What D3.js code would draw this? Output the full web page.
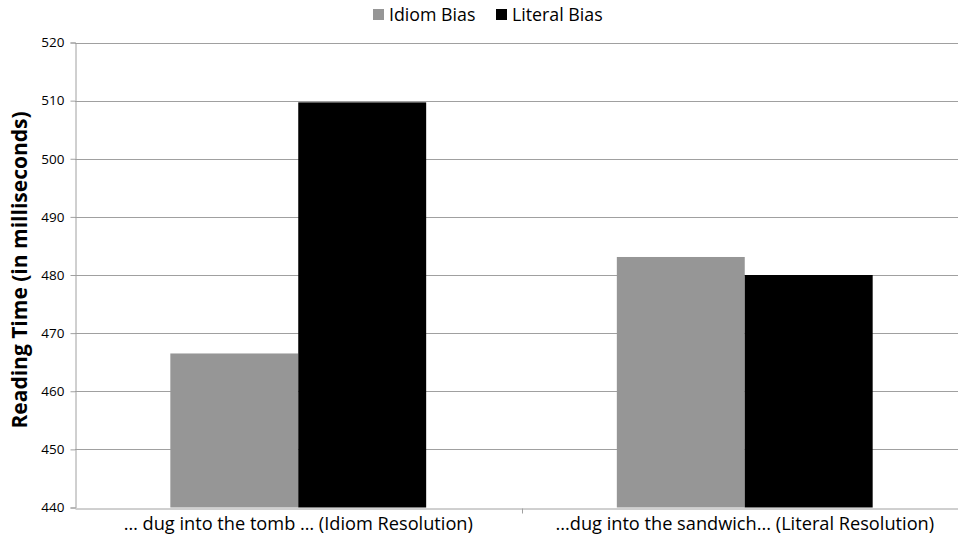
<!DOCTYPE html>
<html>
<head>
<meta charset="utf-8">
<script src="https://cdn.jsdelivr.net/npm/d3@7"></script>
<style>
  html, body { margin: 0; padding: 0; background: #fff; }
  svg { display: block; font-family: "Open Sans", "Noto Sans", sans-serif; }
</style>
</head>
<body>
<svg id="chart" width="958" height="544"></svg>
<script>
// Reading times per sentence ending, split by context bias
const categories = ["… dug into the tomb … (Idiom Resolution)", "...dug into the sandwich... (Literal Resolution)"];
const seriesNames = ["Idiom Bias", "Literal Bias"];
const seriesColors = ["#969696", "#000000"];
const idiomBias = [466.5, 483.1];
const literalBias = [509.7, 480.0];
const yTicks = [440, 450, 460, 470, 480, 490, 500, 510, 520];

const svg = d3.select("#chart");
const margin = { left: 75, right: -10, top: 42.5, bottom: 36.5 };
const W = 958, H = 544;

const pad = 0.427;
const x = d3.scaleBand()
  .domain(categories)
  .range([margin.left, W - margin.right])
  .paddingInner(pad)
  .paddingOuter(pad / 2);

const inner = d3.scaleBand()
  .domain(seriesNames)
  .range([0, x.bandwidth()])
  .padding(0);

const y = d3.scaleLinear()
  .domain([440, 520])
  .range([H - margin.bottom, margin.top]);

// Horizontal gridlines
svg.append("g")
  .selectAll("line")
  .data(yTicks.slice(1))
  .join("line")
  .attr("x1", margin.left)
  .attr("x2", W - margin.right)
  .attr("y1", d => Math.round(y(d)) + 0.5)
  .attr("y2", d => Math.round(y(d)) + 0.5)
  .attr("stroke", "#a0a0a0")
  .attr("stroke-width", 1);

// Bars
const rows = categories.map((c, i) => ({ cat: c, values: [idiomBias[i], literalBias[i]] }));
const groups = svg.append("g")
  .selectAll("g")
  .data(rows)
  .join("g")
  .attr("transform", d => `translate(${x(d.cat)},0)`);

groups.selectAll("rect")
  .data(d => d.values.map((v, j) => ({ name: seriesNames[j], value: v, color: seriesColors[j] })))
  .join("rect")
  .attr("x", d => inner(d.name))
  .attr("width", inner.bandwidth())
  .attr("y", d => y(d.value))
  .attr("height", d => y(440) - y(d.value))
  .attr("fill", d => d.color);

// Y axis
const yAxis = d3.axisLeft(y).tickValues(yTicks).tickSize(5).tickPadding(6).tickFormat(d3.format("d"));
const yg = svg.append("g")
  .attr("transform", `translate(${margin.left + 0.5},0)`)
  .call(yAxis);
yg.select(".domain").attr("stroke", "#a0a0a0");
yg.selectAll(".tick line").attr("stroke", "#a0a0a0");
yg.selectAll(".tick text").attr("fill", "#000").attr("font-size", 13.5).attr("font-family", "Open Sans, sans-serif");

// X axis
const xAxis = d3.axisBottom(x).tickSize(0).tickPadding(9);
const xg = svg.append("g")
  .attr("transform", `translate(0,${Math.round(y(440)) + 0.5})`)
  .call(xAxis);
xg.select(".domain").attr("stroke", "#a0a0a0");
xg.selectAll(".tick text").attr("fill", "#000").attr("font-size", 18.2).attr("font-family", "Open Sans, sans-serif");

// Separator tick between the two categories
const sepX = Math.round(x(categories[1]) - x.step() * pad / 2) + 0.5;
xg.append("line")
  .attr("x1", sepX)
  .attr("x2", sepX)
  .attr("y1", 0)
  .attr("y2", 5)
  .attr("stroke", "#a0a0a0");

// Y axis title
svg.append("text")
  .attr("transform", "translate(27,270) rotate(-90)")
  .attr("text-anchor", "middle")
  .attr("font-size", 21)
  .attr("font-weight", "bold")
  .attr("fill", "#000")
  .text("Reading Time (in milliseconds)");

// Legend
const legend = svg.append("g").attr("transform", "translate(373,5)");
const legendX = [0, 123];
const items = legend.selectAll("g")
  .data(seriesNames)
  .join("g")
  .attr("transform", (d, i) => `translate(${legendX[i]},0)`);
items.append("rect")
  .attr("width", 11).attr("height", 11).attr("y", 4)
  .attr("fill", (d, i) => seriesColors[i]);
items.append("text")
  .attr("x", 16).attr("y", 16)
  .attr("font-size", 17.8)
  .attr("fill", "#000")
  .text(d => d);
</script>
</body>
</html>
